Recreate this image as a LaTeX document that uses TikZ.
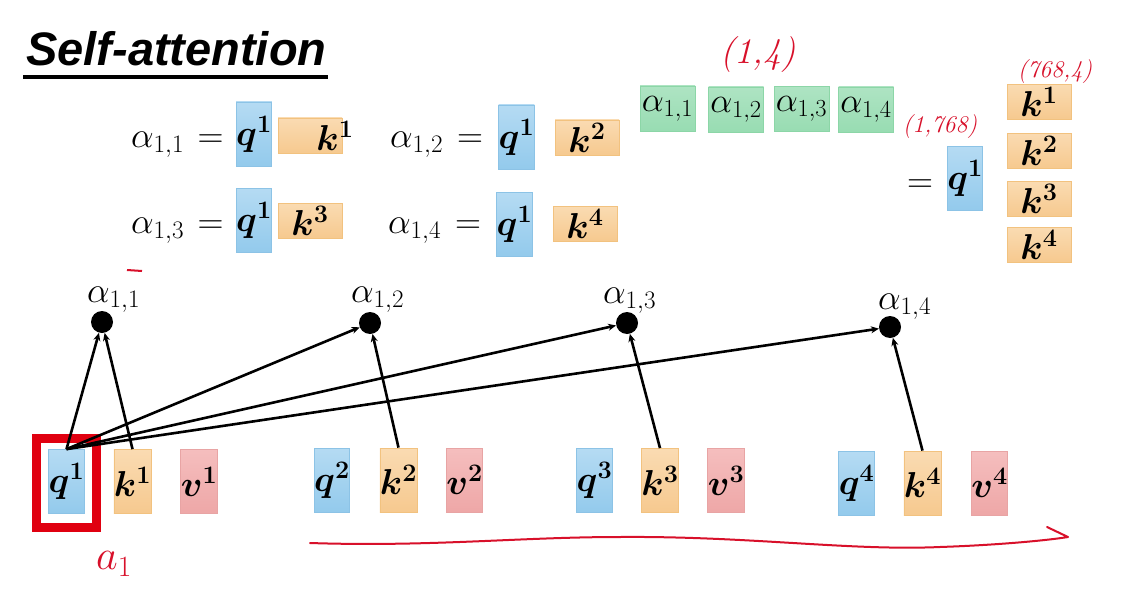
\RequirePackage{fix-cm}
\documentclass[tikz,border=0pt]{standalone}
\usepackage{amsmath}
\usepackage{bm}
\usepackage{fontspec}
\newfontfamily\titlefont{Liberation Sans}
\usetikzlibrary{arrows.meta,calc}
\definecolor{qtop}{HTML}{B5DBF3}
\definecolor{qbot}{HTML}{93CAEC}
\definecolor{qline}{HTML}{8CC3E6}
\definecolor{ktop}{HTML}{FADBB2}
\definecolor{kbot}{HTML}{F6C98F}
\definecolor{kline}{HTML}{F2C27F}
\definecolor{vtop}{HTML}{F5BEBE}
\definecolor{vbot}{HTML}{EEA7A7}
\definecolor{vline}{HTML}{E8A4A4}
\definecolor{gtop}{HTML}{AEE4C3}
\definecolor{gbot}{HTML}{98DCB2}
\definecolor{gline}{HTML}{8CD6A7}
\definecolor{selred}{HTML}{E00010}
\definecolor{inkred}{HTML}{D8102A}
\newcommand\eqfont{\fontsize{36}{40}\selectfont}
\newcommand\boxfont{\fontsize{36}{40}\selectfont}
\tikzset{
  cell/.style={rectangle, inner sep=0pt, font=\boxfont, line width=0.8pt},
  qcell/.style={cell, minimum width=35, minimum height=64, top color=qtop, bottom color=qbot, draw=qline},
  kcellv/.style={cell, minimum width=35, minimum height=64, top color=ktop, bottom color=kbot, draw=kline},
  kcellh/.style={cell, minimum width=64, minimum height=35, top color=ktop, bottom color=kbot, draw=kline},
  vcell/.style={cell, minimum width=35, minimum height=64, top color=vtop, bottom color=vbot, draw=vline},
  gcell/.style={cell, minimum width=55, minimum height=45, top color=gtop, bottom color=gbot, draw=gline, font=\fontsize{35}{40}\selectfont},
  eqtext/.style={inner sep=0pt, font=\eqfont},
  dotnode/.style={circle, fill=black, minimum size=22, inner sep=0pt},
  link/.style={line width=2.6pt, -{Stealth[length=8pt,width=7pt]}},
  ink/.style={inkred, inner sep=0pt, font=\itshape},
}
\begin{document}
\begin{tikzpicture}[x=1pt,y=-1pt]
\useasboundingbox (0,0) rectangle (1134,607);
\fill[white] (0,0) rectangle (1134,607);

% title
\node[anchor=base west, inner sep=0pt, font=\titlefont\bfseries\itshape\fontsize{47}{52}\selectfont] (title) at (26,66) {Self-attention};
\coordinate (ulL) at ($(title.base west)+(-3,11)$);
\coordinate (ulR) at ($(title.base east)+(1,11)$);
\draw[line width=3.5pt] (ulL) -- (ulR);

% top equations, left column
\node[eqtext, anchor=base west] (e11) at (131,147) {$\alpha_{1,1}$};
\node[eqtext, anchor=base] (eq11) at (210.5,147) {$=$};
\node[qcell] (tq11) at (254,134) {$\bm{q^1}$};
\node[kcellh] (tk11) at (310,135.5) {};
\node[cell, anchor=center] (tk11t) at (335,136) {$\bm{k^1}$};

\node[eqtext, anchor=base west] (e13) at (131,233) {$\alpha_{1,3}$};
\node[eqtext, anchor=base] (eq13) at (210.5,233) {$=$};
\node[qcell] (tq13) at (254,220) {$\bm{q^1}$};
\node[kcellh] (tk13) at (310,221) {$\bm{k^3}$};

% top equations, right column
\node[eqtext, anchor=base west] (e12) at (390,147) {$\alpha_{1,2}$};
\node[eqtext, anchor=base] (eq12) at (470,147) {$=$};
\node[qcell] (tq12) at (516.5,137) {$\bm{q^1}$};
\node[kcellh] (tk12) at (587,137.5) {$\bm{k^2}$};

\node[eqtext, anchor=base west] (e14) at (388,233) {$\alpha_{1,4}$};
\node[eqtext, anchor=base] (eq14) at (468,233) {$=$};
\node[qcell] (tq14) at (514.5,224) {$\bm{q^1}$};
\node[kcellh] (tk14) at (585,224) {$\bm{k^4}$};

% green row
\node[gcell] (g1) at (667.5,108.5) {$\alpha_{1,1}$};
\node[gcell] (g2) at (736,109.5) {$\alpha_{1,2}$};
\node[gcell] (g3) at (801.5,109) {$\alpha_{1,3}$};
\node[gcell] (g4) at (866,109.5) {$\alpha_{1,4}$};

% matrix form
\node[eqtext, anchor=base] (eqm) at (920,192) {$=$};
\node[qcell] (mq) at (965,178) {$\bm{q^1}$};
\node[kcellh] (mk1) at (1039,102) {$\bm{k^1}$};
\node[kcellh] (mk2) at (1039,150.5) {$\bm{k^2}$};
\node[kcellh] (mk3) at (1039,199) {$\bm{k^3}$};
\node[kcellh] (mk4) at (1039,245) {$\bm{k^4}$};

% bottom row
\node[qcell]  (q1) at (66.5,481.5) {$\bm{q^1}$};
\node[kcellv] (k1) at (132.5,481.5) {$\bm{k^1}$};
\node[vcell]  (v1) at (199,481.5) {$\bm{v^1}$};
\node[qcell]  (q2) at (332,480) {$\bm{q^2}$};
\node[kcellv] (k2) at (398.5,480) {$\bm{k^2}$};
\node[vcell]  (v2) at (464.5,480) {$\bm{v^2}$};
\node[qcell]  (q3) at (594.5,480.5) {$\bm{q^3}$};
\node[kcellv] (k3) at (660,480.5) {$\bm{k^3}$};
\node[vcell]  (v3) at (726,480.5) {$\bm{v^3}$};
\node[qcell]  (q4) at (856.5,483) {$\bm{q^4}$};
\node[kcellv] (k4) at (922.5,483) {$\bm{k^4}$};
\node[vcell]  (v4) at (989.5,483) {$\bm{v^4}$};

% selection box
\node[draw=selred, line width=9pt, minimum width=60, minimum height=89, inner sep=0pt] (sel) at (66.5,483) {};

% attention score dots
\node[dotnode] (d1) at (102,322) {};
\node[dotnode] (d2) at (370,323) {};
\node[dotnode] (d3) at (627,323) {};
\node[dotnode] (d4) at (890,327) {};
\node[eqtext, anchor=base west] (l1) at (87,302) {$\alpha_{1,1}$};
\node[eqtext, anchor=base west] (l2) at (351,302) {$\alpha_{1,2}$};
\node[eqtext, anchor=base west] (l3) at (603,303) {$\alpha_{1,3}$};
\node[eqtext, anchor=base west] (l4) at (878,309) {$\alpha_{1,4}$};

% connectors
\draw[link] (q1.north) -- (d1);
\draw[link] (k1.north) -- (d1);
\draw[link] (q1.north) -- (d2);
\draw[link] (q1.north) -- (d3);
\draw[link] (q1.north) -- (d4);
\draw[link] (k2.north) -- (d2);
\draw[link] (k3.north) -- (d3);
\draw[link] (k4.north) -- (d4);

% handwritten annotations
\node[ink, font=\itshape\fontsize{36}{38}\selectfont] (h14) at (758,55) {(1,4)};
\node[ink, font=\itshape\fontsize{24}{26}\selectfont] (h1768) at (940,127) {(1,768)};
\node[ink, font=\itshape\fontsize{24}{26}\selectfont] (h7684) at (1055,72) {(768,4)};
\node[ink, font=\fontsize{42}{44}\selectfont] (ha1) at (114,564) {$a_{1}$};
\coordinate (m1) at (127,270);
\coordinate (m2) at (142,271);
\draw[inkred, line width=2pt] (m1) -- (m2);
\coordinate (c0) at (310,543);
\coordinate (c1) at (620,537);
\coordinate (c2) at (940,547);
\coordinate (c3) at (1068,537);
\coordinate (c4) at (1047,527);
\draw[inkred, line width=2pt, line cap=round, line join=round]
  (c0) .. controls (430,547) and (520,537) .. (c1)
  .. controls (750,536) and (850,551) .. (c2)
  .. controls (1000,545) and (1050,540) .. (c3) -- (c4);
\end{tikzpicture}
\end{document}
